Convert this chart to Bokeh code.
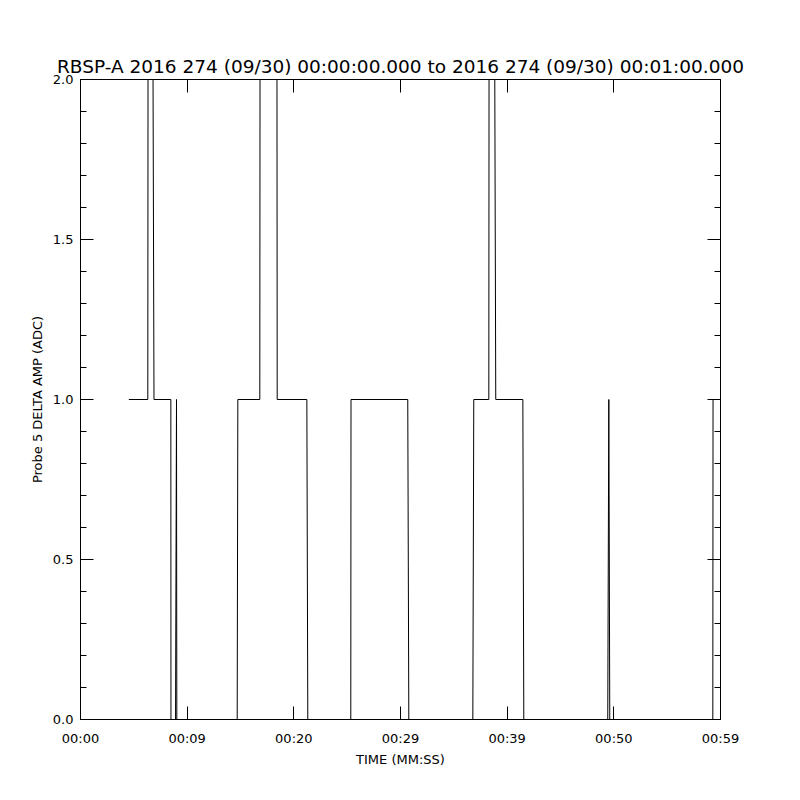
from bokeh.plotting import figure
from bokeh.models import (Range1d, LinearAxis, FixedTicker, CustomJSTickFormatter,
                          PrintfTickFormatter, ColumnDataSource)
from bokeh.embed import file_html
from bokeh.resources import INLINE

# ---- data (vertices of the trace) ----
time_s = [4.53, 6.31, 6.33, 6.80, 6.89, 8.47, 8.48, 8.91, 9.00, 9.03,
          14.69, 14.75, 16.81, 16.83, 18.42, 18.44, 21.22, 21.31, 25.34, 25.36,
          30.68, 30.78, 36.78, 36.87, 38.28, 38.30, 38.84, 38.93, 41.47, 41.56,
          49.43, 49.53, 49.62, 59.28, 59.30, 60.0]
delta_amp = [1, 1, 2, 2, 1, 1, 0, 0, 1, 0,
             0, 1, 1, 2, 2, 1, 1, 0, 0, 1,
             1, 0, 0, 1, 1, 2, 2, 1, 1, 0,
             0, 1, 0, 0, 1, 1]

x_ticks = [0, 10, 20, 30, 40, 50, 60]
x_tick_labels = ["00:00", "00:09", "00:20", "00:29", "00:39", "00:50", "00:59"]
y_major = [0.0, 0.5, 1.0, 1.5, 2.0]
y_minor = [0.1, 0.2, 0.3, 0.4, 0.6, 0.7, 0.8, 0.9, 1.1, 1.2, 1.3, 1.4,
           1.6, 1.7, 1.8, 1.9]
title_text = "RBSP-A 2016 274 (09/30) 00:00:00.000 to 2016 274 (09/30) 00:01:00.000"
x_label = "TIME (MM:SS)"
y_label = "Probe 5 DELTA AMP (ADC)"

FONT = "DejaVu Sans"

p = figure(frame_width=640, frame_height=640,
           x_range=Range1d(0, 60), y_range=Range1d(0, 2),
           output_backend="svg", toolbar_location=None,
           x_axis_location=None, y_axis_location=None,
           title=title_text,
           min_border_left=80, min_border_right=72,
           min_border_top=79, min_border_bottom=73)
p.xgrid.grid_line_color = None
p.ygrid.grid_line_color = None
p.outline_line_color = "black"
p.outline_line_width = 1
p.background_fill_color = "white"
p.border_fill_color = "white"

p.title.text_font = FONT
p.title.text_font_size = "18.5px"
p.title.text_font_style = "normal"
p.title.text_color = "black"
p.title.align = "center"
p.title.standoff = 6


def style(ax):
    ax.axis_line_color = "black"
    ax.major_tick_line_color = "black"
    ax.minor_tick_line_color = "black"
    ax.major_tick_in = 13
    ax.major_tick_out = 0
    ax.minor_tick_in = 6
    ax.minor_tick_out = 0
    ax.major_label_text_font = FONT
    ax.major_label_text_font_size = "13px"
    ax.major_label_text_color = "black"
    ax.axis_label_text_font = FONT
    ax.axis_label_text_font_size = "13px"
    ax.axis_label_text_font_style = "normal"
    ax.axis_label_text_color = "black"


empty = CustomJSTickFormatter(code="return ''")

bottom = LinearAxis(ticker=FixedTicker(ticks=x_ticks, minor_ticks=[]),
                    major_label_overrides=dict(zip(x_ticks, x_tick_labels)),
                    axis_label=x_label)
style(bottom)
bottom.major_label_standoff = 11
bottom.axis_label_standoff = 3
p.add_layout(bottom, "below")

top = LinearAxis(ticker=FixedTicker(ticks=x_ticks, minor_ticks=[]), formatter=empty)
style(top)
top.major_label_standoff = 0
p.add_layout(top, "above")

left = LinearAxis(ticker=FixedTicker(ticks=y_major, minor_ticks=y_minor),
                  formatter=PrintfTickFormatter(format="%.1f"),
                  axis_label=y_label)
style(left)
left.major_label_standoff = 7
left.axis_label_standoff = 5
p.add_layout(left, "left")

right = LinearAxis(ticker=FixedTicker(ticks=y_major, minor_ticks=y_minor), formatter=empty)
style(right)
right.major_label_standoff = 0
p.add_layout(right, "right")

src = ColumnDataSource(dict(t=time_s, v=delta_amp))
p.line("t", "v", source=src, line_color="black", line_width=1)

open("out.html", "w").write(file_html(p, INLINE))
